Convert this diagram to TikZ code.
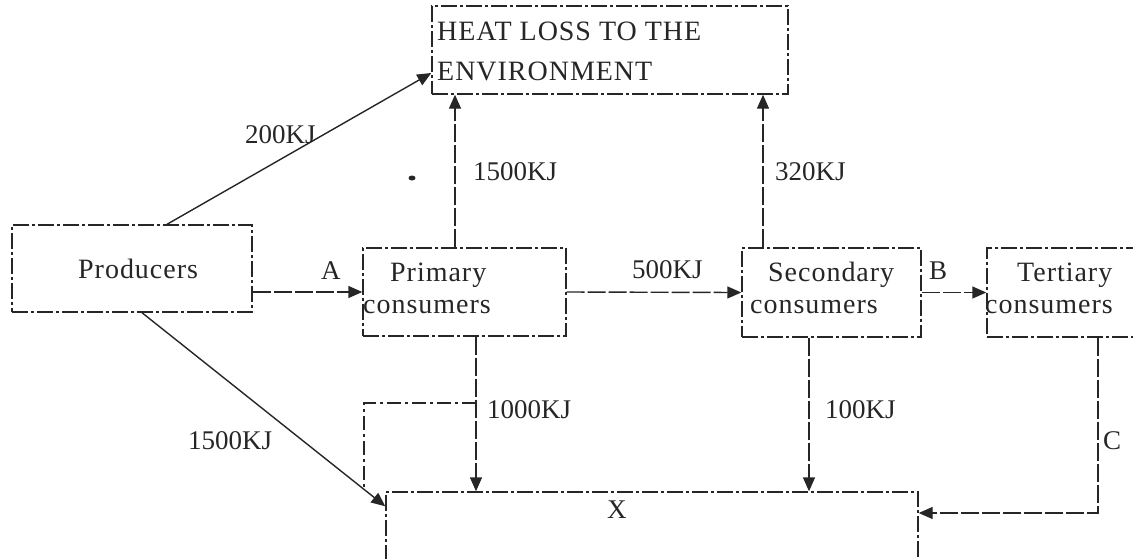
\documentclass[tikz,border=0pt]{standalone}
\usepackage{fontspec}
\setmainfont{Liberation Serif}
\newfontfamily\wordfont[LetterSpace=3.5]{Liberation Serif}
\usetikzlibrary{arrows.meta}
\begin{document}
\begin{tikzpicture}[x=1pt,y=-1pt,
  box/.style={draw=black!85, line width=1.4pt, dash pattern=on 16pt off 3pt on 3pt off 3pt, inner sep=0},
  txt/.style={anchor=base west, inner sep=0, font=\fontsize{27}{33}\selectfont, text=black!85},
  wtxt/.style={anchor=base west, inner sep=0, font=\wordfont\fontsize{28}{33}\selectfont, text=black!85},
  arr/.style={draw=black!85, line width=1.4pt, -{Triangle[length=14pt,width=12pt]}},
  dsh/.style={dash pattern=on 18pt off 3pt},
  plain/.style={draw=black!85, line width=1.4pt}
]
\useasboundingbox (0,0) rectangle (1133,558);

% boxes
\node[box, minimum width=356pt, minimum height=88pt] (heat) at (610,50) {};
\node[box, minimum width=240pt, minimum height=87pt] (prod) at (132,268.5) {};
\node[box, minimum width=203pt, minimum height=88pt] (prim) at (464.5,292) {};
\node[box, minimum width=179pt, minimum height=89pt] (sec) at (831.5,292.5) {};
\node[box, minimum width=158pt, minimum height=89pt] (tert) at (1066,292.5) {};
\node[box, minimum width=532pt, minimum height=83pt] (X) at (652,533.5) {};

% box texts
\node[wtxt] (theat1) at (437,40) {HEAT LOSS TO THE};
\node[wtxt] (theat2) at (437,80) {ENVIRONMENT};
\node[wtxt] (tprod) at (78,278) {Producers};
\node[wtxt] (tprim1) at (390,281) {Primary};
\node[wtxt] (tprim2) at (363,313) {consumers};
\node[wtxt] (tsec1) at (768,281) {Secondary};
\node[wtxt] (tsec2) at (750,313) {consumers};
\node[wtxt] (ttert1) at (1017,281) {Tertiary};
\node[wtxt] (ttert2) at (985,313) {consumers};
\node[txt] (tX) at (607,518) {X};

% connectors
\draw[arr] ([xshift=35pt]prod.north) -- ([yshift=-23pt]heat.west);
\draw[arr] ([xshift=10pt]prod.south) -- ([yshift=-15pt]X.north west);
\draw[arr,dsh] (prod.east |- prim.west) -- (prim.west);
\draw[arr,dsh] (prim.east) -- (sec.west);
\draw[arr,dsh] (sec.east) -- (tert.west |- sec.east);
\draw[arr,dsh] ([xshift=-9.5pt]prim.north) -- ([xshift=-9.5pt]prim.north |- heat.south);
\draw[arr,dsh] ([xshift=-68.5pt]sec.north) -- ([xshift=-68.5pt]sec.north |- heat.south);
\draw[arr,dsh] ([xshift=11.5pt]prim.south) -- ([xshift=11.5pt]prim.south |- X.north);
\draw[arr,dsh] ([xshift=-22.5pt]sec.south) -- ([xshift=-22.5pt]sec.south |- X.north);
\draw[arr,dsh] ([xshift=32pt]tert.south) |- ([yshift=20.5pt]X.east);
\coordinate (br) at (476,403);
\coordinate (brend) at (364,490);
\draw[plain,dash pattern=on 14pt off 4pt on 3pt off 4pt] (br) -| (brend);

% labels
\node[txt] (l200) at (245,143) {200KJ};
\node[txt] (l1500a) at (473,180) {1500KJ};
\node[txt] (l320) at (775,180) {320KJ};
\node[txt] (lA) at (321,279) {A};
\node[txt] (l500) at (632,278) {500KJ};
\node[txt] (lB) at (929,279) {B};
\node[txt] (l1000) at (487,418) {1000KJ};
\node[txt] (l100) at (825,418) {100KJ};
\node[txt] (l1500b) at (188,449) {1500KJ};
\node[txt] (lC) at (1103,449) {C};

% scan spot
\fill[black!85] (412,178) ellipse (3.5pt and 2.5pt);
\end{tikzpicture}
\end{document}
